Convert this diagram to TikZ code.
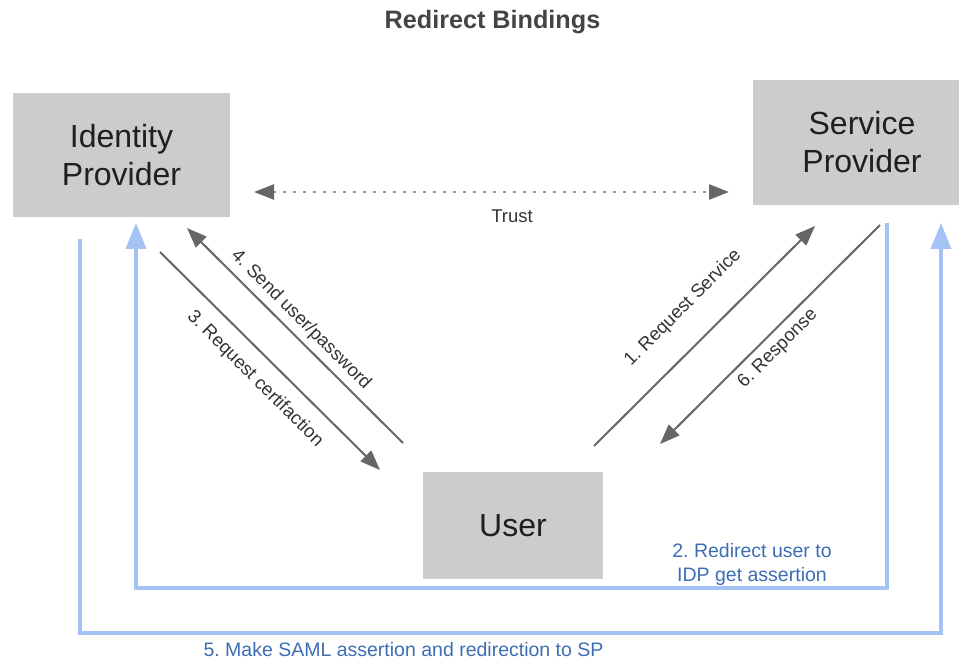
\documentclass[tikz,border=0pt]{standalone}
\usepackage{fontspec}
\setmainfont{Liberation Sans}
\usetikzlibrary{arrows.meta}
\definecolor{boxgray}{HTML}{CCCCCC}
\definecolor{arrowgray}{HTML}{666666}
\definecolor{dotgray}{HTML}{999999}
\definecolor{lineblue}{HTML}{A4C2F4}
\definecolor{textblue}{HTML}{3D6DB5}
\definecolor{titlegray}{HTML}{444444}
\definecolor{labelgray}{HTML}{333333}
\frenchspacing
\begin{document}
\begin{tikzpicture}[x=1pt,y=-1pt,
  box/.style={fill=boxgray, draw=none, inner sep=0pt, align=center,
    font=\fontsize{32}{38}\selectfont, text=black!88},
  flow/.style={draw=arrowgray, line width=2pt,
    -{Triangle[length=20pt,width=15pt]}},
  redirect/.style={draw=lineblue, line width=3.5pt, miter limit=10,
    -{Triangle[length=26pt,width=20pt]}},
  lbl/.style={font=\fontsize{18.5}{24}\selectfont, text=labelgray, inner sep=0pt},
  bluelbl/.style={font=\fontsize{19.5}{24}\selectfont, text=textblue, inner sep=0pt, align=center},
  trust/.style={draw=dotgray, line width=2.5pt, dash pattern=on 2.5pt off 7.5pt,
    {Triangle[length=20pt,width=15pt,color=arrowgray]}-{Triangle[length=20pt,width=15pt,color=arrowgray]}}
]
\useasboundingbox (0,0) rectangle (959,660);

% title
\node[font=\bfseries\fontsize{25.2}{28}\selectfont, text=titlegray, anchor=base, inner sep=0pt]
  (title) at (492.5,29) {Redirect Bindings};

% boxes
\node[box, minimum width=217pt, minimum height=124pt] (idp) at (121.5,155) {Identity\\Provider};
\node[box, minimum width=218pt, minimum height=125pt] (sp) at (862,142.5) {Service\\Provider};
\node[box, minimum width=180pt, minimum height=107pt] (user) at (513,525.5) {User};

% connector end points
\coordinate (t1) at (254,192);
\coordinate (t2) at (729,192);
\coordinate (a4s) at (403,443);
\coordinate (a4e) at (187,228);
\coordinate (a3s) at (160,252);
\coordinate (a3e) at (380,470);
\coordinate (a1s) at (594,446);
\coordinate (a1e) at (815,226);
\coordinate (a6s) at (880,225);
\coordinate (a6e) at (660,444);
\coordinate (b2s) at (887,223);
\coordinate (b2e) at (136,223);
\coordinate (b5s) at (80,239);
\coordinate (b5e) at (941,223);

% trust
\draw[trust] (t1) -- (t2);
\node[lbl, anchor=base] (trustlbl) at (512,223) {Trust};

% flows
\draw[flow] (a4s) -- (a4e);
\draw[flow] (a3s) -- (a3e);
\draw[flow] (a1s) -- (a1e);
\draw[flow] (a6s) -- (a6e);

\node[lbl, rotate=-45] (l4) at (301,320) {4. Send user/password};
\node[lbl, rotate=-45] (l3) at (255,379) {3. Request certifaction};
\node[lbl, rotate=45] (l1) at (683,308) {1. Request Service};
\node[lbl, rotate=45] (l6) at (778,349) {6. Response};

% redirects
\draw[redirect] (b2s) |- (136,588) -- (b2e);
\draw[redirect] (b5s) |- (941,633) -- (b5e);

\node[bluelbl, anchor=base] (l2a) at (752,557) {2. Redirect user to};
\node[bluelbl, anchor=base] (l2b) at (752,581) {IDP get assertion};
\node[bluelbl, anchor=base] (l5) at (403.5,656.5) {5. Make SAML assertion and redirection to SP};
\end{tikzpicture}
\end{document}
